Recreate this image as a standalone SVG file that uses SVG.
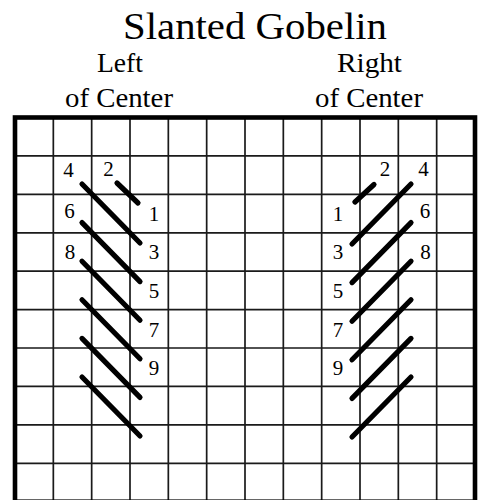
<svg xmlns="http://www.w3.org/2000/svg" width="482" height="500" viewBox="0 0 482 500">
<style>
.t{font-family:"Liberation Serif","DejaVu Serif",serif;fill:#000;text-anchor:middle}
.title{font-size:37px}
.hd{font-size:27px}
.n{font-size:21px}
.g{stroke:#1a1a1a;stroke-width:1.7;fill:none}
.b{stroke:#000;stroke-width:4.6;fill:none}
.s{stroke:#000;stroke-width:5.2;stroke-linecap:round;fill:none}
</style>
<rect x="0" y="0" width="482" height="500" fill="#fff"/>
<g id="title">
<text class="t title" x="255" y="38.5" textLength="264" lengthAdjust="spacingAndGlyphs">Slanted Gobelin</text>
<text class="t hd" x="120" y="71.5" textLength="46" lengthAdjust="spacingAndGlyphs">Left</text>
<text class="t hd" x="369.5" y="71.5" textLength="65" lengthAdjust="spacingAndGlyphs">Right</text>
<text class="t hd" x="119" y="107" textLength="108" lengthAdjust="spacingAndGlyphs">of Center</text>
<text class="t hd" x="369" y="107" textLength="108" lengthAdjust="spacingAndGlyphs">of Center</text>
</g>
<g id="grid">
<path class="g" d="M53.33,117.5V502M91.67,117.5V502M130,117.5V502M168.33,117.5V502M206.67,117.5V502M245,117.5V502M283.33,117.5V502M321.67,117.5V502M360,117.5V502M398.33,117.5V502M436.67,117.5V502"/>
<path class="g" d="M15,155.9H475M15,194.3H475M15,232.8H475M15,271.2H475M15,309.6H475M15,348H475M15,386.4H475M15,424.9H475M15,463.3H475"/>
<rect class="b" x="15" y="117.5" width="460" height="384.2"/>
</g>
<g id="left-stitches">
<line class="s" x1="117" y1="183" x2="138" y2="203"/>
<line class="s" x1="82" y1="184" x2="140" y2="243"/>
<line class="s" x1="82" y1="222.6" x2="140" y2="281.6"/>
<line class="s" x1="82" y1="261.2" x2="140" y2="320.2"/>
<line class="s" x1="82" y1="299.8" x2="140" y2="358.8"/>
<line class="s" x1="82" y1="338.4" x2="140" y2="397.4"/>
<line class="s" x1="82" y1="377" x2="140" y2="436"/>
</g>
<g id="right-stitches">
<line class="s" x1="355" y1="202" x2="374" y2="184.5"/>
<line class="s" x1="352" y1="244" x2="411" y2="184"/>
<line class="s" x1="352" y1="282.6" x2="411" y2="222.6"/>
<line class="s" x1="352" y1="321.2" x2="411" y2="261.2"/>
<line class="s" x1="352" y1="359.8" x2="411" y2="299.8"/>
<line class="s" x1="352" y1="398.4" x2="411" y2="338.4"/>
<line class="s" x1="352" y1="437" x2="411" y2="377"/>
</g>
<g id="left-labels">
<text class="t n" x="68.5" y="176.5">4</text>
<text class="t n" x="108.5" y="176">2</text>
<text class="t n" x="154" y="220.7">1</text>
<text class="t n" x="69.5" y="218">6</text>
<text class="t n" x="154" y="258.5">3</text>
<text class="t n" x="70" y="259">8</text>
<text class="t n" x="154" y="298">5</text>
<text class="t n" x="154" y="336.5">7</text>
<text class="t n" x="154" y="375">9</text>
</g>
<g id="right-labels">
<text class="t n" x="385" y="176">2</text>
<text class="t n" x="423.5" y="176">4</text>
<text class="t n" x="338" y="220.7">1</text>
<text class="t n" x="425" y="218">6</text>
<text class="t n" x="338" y="258.5">3</text>
<text class="t n" x="425.5" y="259">8</text>
<text class="t n" x="338" y="298">5</text>
<text class="t n" x="338" y="336.5">7</text>
<text class="t n" x="338" y="375">9</text>
</g>
</svg>
